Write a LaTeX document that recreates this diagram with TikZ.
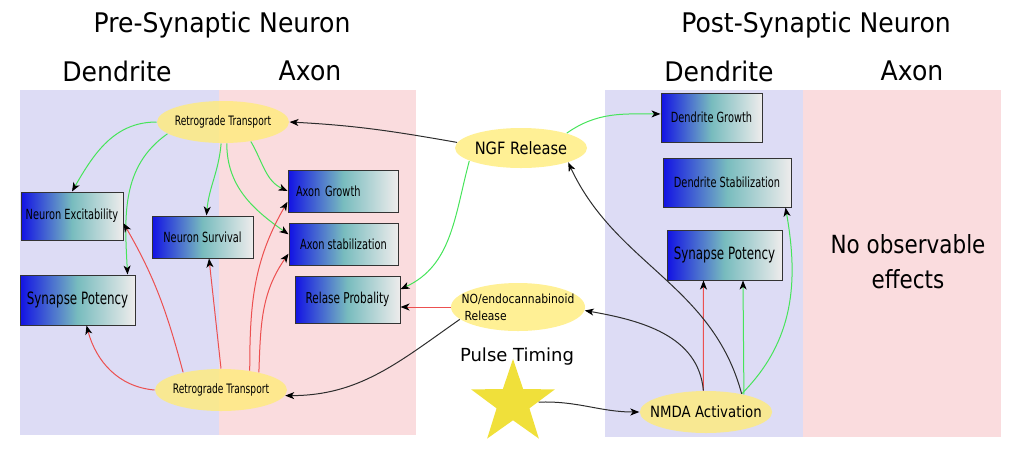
\documentclass[tikz,border=0pt]{standalone}
\usepackage{fontspec}
\setmainfont{DejaVu Sans}[FakeStretch=0.86]
\newfontfamily\narrowfont{DejaVu Sans}[FakeStretch=0.7]
\newfontfamily\headfont{DejaVu Sans}[FakeStretch=0.93]
\newfontfamily\plainfont{DejaVu Sans}
\usetikzlibrary{shapes.geometric,arrows.meta}

\definecolor{dendbg}{RGB}{221,220,245}
\definecolor{axonbg}{RGB}{250,220,222}
\definecolor{blobfill}{RGB}{255,236,122}
\definecolor{starfill}{RGB}{240,224,58}
\definecolor{boxblue}{RGB}{18,18,228}
\definecolor{boxteal}{RGB}{120,188,190}
\definecolor{boxpale}{RGB}{238,236,236}
\definecolor{upline}{RGB}{70,228,90}
\definecolor{downline}{RGB}{236,80,80}
\definecolor{linkline}{RGB}{45,45,45}

\begin{document}
\begin{tikzpicture}[x=1pt, y=1pt, -{Stealth[length=9pt,width=7pt,inset=2.5pt,color=black]}, line width=1pt,
    box/.style={rectangle, draw=black!80, left color=boxblue, right color=boxpale, middle color=boxteal, inner sep=3pt, font=\narrowfont\fontsize{14}{16}\selectfont},
    blob/.style={ellipse, fill=blobfill, fill opacity=0.8, text opacity=1, inner xsep=-9pt, inner ysep=0pt, minimum width=132pt, minimum height=42pt},
    head/.style={font=\headfont\fontsize{27}{30}\selectfont},
    up/.style={draw=upline}, down/.style={draw=downline}, link/.style={draw=linkline}]

    \useasboundingbox (0,0) rectangle (1015,-448);

    % dendrite / axon areas
    \fill[dendbg, -] (20,-90) rectangle (219,-435);
    \fill[axonbg, -] (219,-90) rectangle (416,-435);
    \fill[dendbg, -] (605,-90) rectangle (803,-437);
    \fill[axonbg, -] (803,-90) rectangle (1001,-437);

    \node[head] (preTitle) at (222,-25) {Pre-Synaptic Neuron};
    \node[head] (postTitle) at (816,-25) {Post-Synaptic Neuron};
    \node[head] (preDend) at (117,-71) {Dendrite};
    \node[head] (preAxon) at (310,-71) {Axon};
    \node[head] (postDend) at (719,-71) {Dendrite};
    \node[head] (postAxon) at (912,-71) {Axon};

    \node[blob, font=\narrowfont\fontsize{13}{15}\selectfont] (rtTop) at (223,-122) {Retrograde Transport};
    \node[blob, font=\narrowfont\fontsize{13}{15}\selectfont] (rtBot) at (221,-390) {Retrograde Transport};
    \node[blob, minimum height=40pt, font=\fontsize{17}{19}\selectfont] (ngf) at (521,-148) {NGF Release};
    \node[blob, minimum width=134pt, minimum height=48pt, align=left, font=\fontsize{12.5}{17}\selectfont] (noRel) at (518,-307) {NO/endocannabinoid\\\hspace{3pt}Release};
    \node[blob, font=\fontsize{15.5}{18}\selectfont] (nmda) at (706,-412) {NMDA Activation};

    \node[star, star points=5, star point ratio=2.55, minimum size=88pt, inner sep=0pt, fill=starfill] (pulse) at (513,-403) {};
    \node[font=\plainfont\fontsize{18}{20}\selectfont] (pulseLbl) at (517,-357) {Pulse Timing};

    \node[box, minimum width=102pt, minimum height=48pt] (nExc) at (72,-216) {Neuron Excitability};
    \node[box, minimum width=101pt, minimum height=42pt] (nSurv) at (202.5,-237) {Neuron Survival};
    \node[box, minimum width=115pt, minimum height=50pt, font=\narrowfont\fontsize{17}{19}\selectfont] (synL) at (77.5,-300) {Synapse Potency};
    \node[box, minimum width=110pt, minimum height=42pt, text width=94pt, align=left] (axG) at (343,-191) {Axon Growth};
    \node[box, minimum width=109pt, minimum height=42pt] (axS) at (343.5,-244) {Axon stabilization};
    \node[box, minimum width=105pt, minimum height=47pt, font=\narrowfont\fontsize{15}{17}\selectfont] (relP) at (347.5,-299.5) {Relase Probality};
    \node[box, minimum width=101pt, minimum height=49pt] (dG) at (711.5,-117.5) {Dendrite Growth};
    \node[box, minimum width=128pt, minimum height=49pt] (dStab) at (727,-182.5) {Dendrite Stabilization};
    \node[box, minimum width=115pt, minimum height=50pt, font=\narrowfont\fontsize{17}{19}\selectfont] (synR) at (724.5,-255) {Synapse Potency};

    \node[align=center, font=\fontsize{25}{35}\selectfont] (noEffect) at (908,-262) {No observable\\effects};

    % pre-synaptic side
    \path
        (rtTop.180) edge[up, out=180, in=60] (nExc.north)
        (rtTop.192) edge[up, out=215, in=93] (synL.27)
        (rtTop.-95) edge[up, out=-95, in=85] ([xshift=4pt]nSurv.north)
        (rtTop.-35) edge[up, out=-60, in=155] (axG.west)
        (rtTop.-80) edge[up, out=-90, in=145] (axS.170)
        (rtBot.west) edge[down, out=175, in=-75] ([xshift=9pt]synL.south)
        (rtBot.155) edge[down, out=105, in=-60] (nExc.-8)
        (rtBot.north) edge[down] ([xshift=6.5pt]nSurv.south)
        (rtBot.34) edge[down, out=90, in=-120] (axG.191)
        (rtBot.25) edge[down, out=88, in=-125] (axS.190)
        ;

    % between the two neurons
    \path
        (ngf.175) edge[link, out=170, in=-3] (rtTop.east)
        (ngf.194) edge[up, out=-105, in=25] (relP.11)
        (ngf.18) edge[up, out=35, in=180] (dG.176)
        (noRel.west) edge[down] ([yshift=-7.5pt]relP.east)
        (noRel.192) edge[link, out=215, in=0] (rtBot.-5)
        (pulse) edge[link, out=2, in=180] (nmda.west)
        ;

    % post-synaptic side
    \path
        (nmda.97) edge[down] ([xshift=-21pt]synR.south)
        (nmda.25) edge[up] ([xshift=18.5pt]synR.south)
        (nmda.27) edge[up, out=45, in=-80] ([xshift=-6pt]dStab.south east)
        (nmda.27) edge[link, out=105, in=-65] (ngf.-17)
        (nmda.97) edge[link, out=95, in=-10] (noRel.-3)
        ;
\end{tikzpicture}
\end{document}
